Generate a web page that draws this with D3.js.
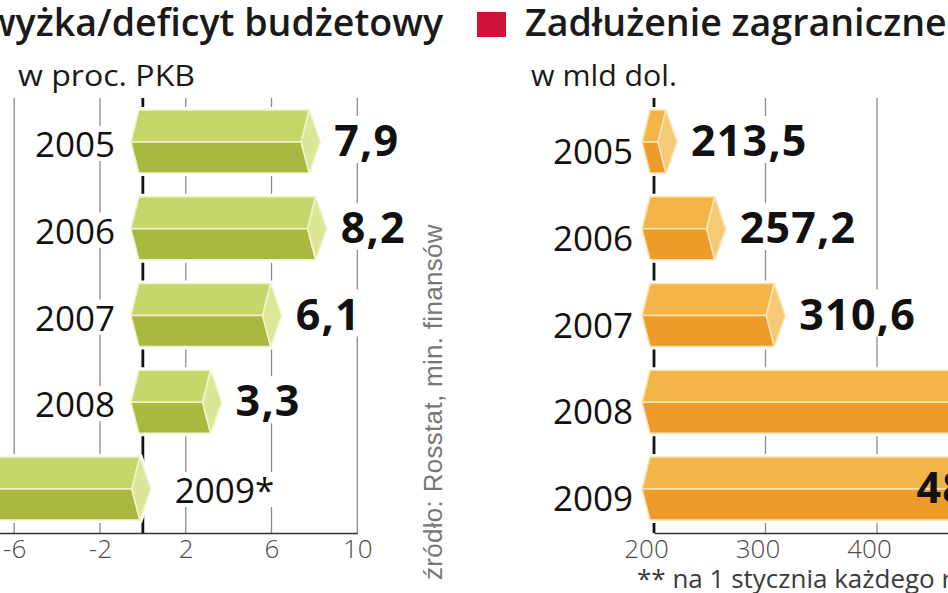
<!DOCTYPE html>
<html>
<head>
<meta charset="utf-8">
<script src="https://cdn.jsdelivr.net/npm/d3@7"></script>
<style>
  html, body {margin: 0; padding: 0; background: #fff; overflow: hidden;}
  svg {display: block; font-family: 'Open Sans', 'Liberation Sans', Arial, sans-serif;}
  .tick text {fill: #4a4a4a;}
</style>
</head>
<body>
<script>
const W = 948, H = 593

// dane
const years = ['2005', '2006', '2007', '2008', '2009']
const budget = [7.9, 8.2, 6.1, 3.3, -7.4]          // w proc. PKB
const budgetLabels = ['7,9', '8,2', '6,1', '3,3', '-7,4']
const debt = [213.5, 257.2, 310.6, 475.0, 484.7]   // w mld dol.
const debtLabels = ['213,5', '257,2', '310,6', '475,0', '484,7']
const budgetTicks = [-10, -6, -2, 2, 6, 10]
const debtTicks = [200, 300, 400, 500]

const svg = d3.select('body').append('svg')
  .attr('width', W).attr('height', H)

const green = {top: '#c7d66b', bottom: '#a9b93f', cap: '#dbe697', line: '#f0f4cc'}
const orange = {top: '#f3b547', bottom: '#ed9b29', cap: '#f6c977', line: '#fde4b4'}

const y = d3.scalePoint().domain(years).range([142, 489])
const gridTop = 98, axisY = 533

const xL = d3.scaleLinear().domain([-10, 10]).range([-71.6, 357.3])
const xR = d3.scaleLinear().domain([200, 500]).range([654, 988.5])

// pryzmat
function prism(g, x0, x1, c, col) {
  const t = c - 32, m = c, b = c + 31
  const outline = [[x0 - 4, t], [x1 - 3, t], [x1 + 8, m], [x1 - 3, b], [x0 - 4, b], [x0 - 12, m]]
  g.append('polygon').attr('points', outline.join(' '))
    .attr('fill', '#fff').attr('stroke', '#fff').attr('stroke-width', 6)
  const faces = [
    [[[x0 - 4, t], [x1 - 3, t], [x1 - 11, m], [x0 - 12, m]], col.top],
    [[[x0 - 12, m], [x1 - 11, m], [x1 - 3, b], [x0 - 4, b]], col.bottom],
    [[[x1 - 3, t], [x1 + 8, m], [x1 - 3, b], [x1 - 11, m]], col.cap]
  ]
  faces.forEach(f => {
    g.append('polygon').attr('points', f[0].join(' '))
      .attr('fill', f[1]).attr('stroke', col.line).attr('stroke-width', 1.6)
      .attr('stroke-linejoin', 'round')
  })
}

function label(g, x, yy, txt, opts) {
  const t = g.append('text').attr('x', x).attr('y', yy).text(txt)
    .attr('font-size', opts.size).attr('font-weight', opts.weight || 'normal')
    .attr('text-anchor', opts.anchor || 'start').attr('fill', opts.fill || '#111')
  if (opts.ls) t.attr('letter-spacing', opts.ls)
  if (opts.bg) {
    const bb = t.node().getBBox()
    g.insert('rect', () => t.node())
      .attr('x', bb.x - 3).attr('y', bb.y + 6).attr('width', bb.width + 6).attr('height', bb.height - 12)
      .attr('fill', '#fff')
  }
  return t
}

function chart(x, base, values, labels, ticks, col, yearX, yearDy, tickDx, opts) {
  const g = svg.append('g')
  // siatka
  g.selectAll('.grid').data(ticks.filter(d => d !== base)).enter().append('line')
    .attr('x1', d => x(d)).attr('x2', d => x(d))
    .attr('y1', gridTop).attr('y2', axisY)
    .attr('stroke', '#8c8c8c').attr('stroke-width', 1.3)
  g.append('line')
    .attr('x1', x(base)).attr('x2', x(base)).attr('y1', gridTop).attr('y2', axisY)
    .attr('stroke', '#111').attr('stroke-width', 2.8)

  // oś
  const ax = g.append('g').attr('transform', `translate(0,${axisY})`)
    .call(d3.axisBottom(x).tickValues(ticks).tickSize(0).tickPadding(7).tickFormat(d => d))
  ax.select('.domain').attr('stroke', '#333').attr('stroke-width', 1.6)
  ax.selectAll('.tick text').attr('font-size', 26).attr('font-weight', 300)
    .attr('font-family', 'Open Sans, sans-serif').attr('dx', tickDx)

  const labelsG = svg.append('g')
  years.forEach((yr, i) => {
    const v = values[i], c = y(yr)
    const x0 = x(Math.min(v, base)), x1 = x(Math.max(v, base))
    prism(g, x0, x1, c, col)
    if (v < base) {
      label(labelsG, x(base) + 32, c + 14, yr + '*', {size: 35, bg: true})
      label(labelsG, x0 - 22, c + 14, labels[i], {size: 43, weight: 'bold', anchor: 'end', ls: 1.2})
    } else {
      label(labelsG, yearX, c + yearDy, yr, {size: 35, anchor: 'end', bg: true})
      const inside = opts.inside && opts.inside.includes(yr)
      label(labelsG, inside ? x1 - 55 : x1 + 22, c + 14, labels[i],
        {size: 43, weight: 'bold', bg: !inside, ls: 1.2})
    }
  })
}

chart(xL, 0, budget, budgetLabels, budgetTicks, green, 115, 15, 0, {})
chart(xR, 200, debt, debtLabels, debtTicks, orange, 633, 22, -8, {inside: ['2009']})

// nagłówki
svg.append('rect').attr('x', -40).attr('y', 12).attr('width', 29).attr('height', 25).attr('fill', '#9ab52c')
svg.append('text').attr('x', 443).attr('y', 36).attr('text-anchor', 'end')
  .attr('font-size', 37.6).attr('font-weight', 600).attr('fill', '#1a1a1a')
  .text('Nadwyżka/deficyt budżetowy')
svg.append('text').attr('x', 18).attr('y', 86).attr('font-size', 29).attr('fill', '#1a1a1a')
  .attr('textLength', 177).attr('lengthAdjust', 'spacingAndGlyphs')
  .text('w proc. PKB')

svg.append('rect').attr('x', 477).attr('y', 12).attr('width', 29).attr('height', 25).attr('fill', '#cf1238')
svg.append('text').attr('x', 525).attr('y', 36)
  .attr('font-size', 37.6).attr('font-weight', 600).attr('fill', '#1a1a1a')
  .text('Zadłużenie zagraniczne**')
svg.append('text').attr('x', 531).attr('y', 86).attr('font-size', 29).attr('fill', '#1a1a1a')
  .attr('textLength', 146).attr('lengthAdjust', 'spacingAndGlyphs')
  .text('w mld dol.')

// źródło i przypis
svg.append('text').attr('transform', 'translate(442,580) rotate(-90)')
  .attr('font-size', 26).attr('fill', '#777').attr('font-family', 'Liberation Sans, Arial, sans-serif')
  .attr('letter-spacing', 0.3)
  .text('źródło: Rosstat, min. finansów')
svg.append('text').attr('x', 637).attr('y', 588).attr('font-size', 26).attr('fill', '#3a3a3a')
  .text('** na 1 stycznia każdego roku')
</script>
</body>
</html>
